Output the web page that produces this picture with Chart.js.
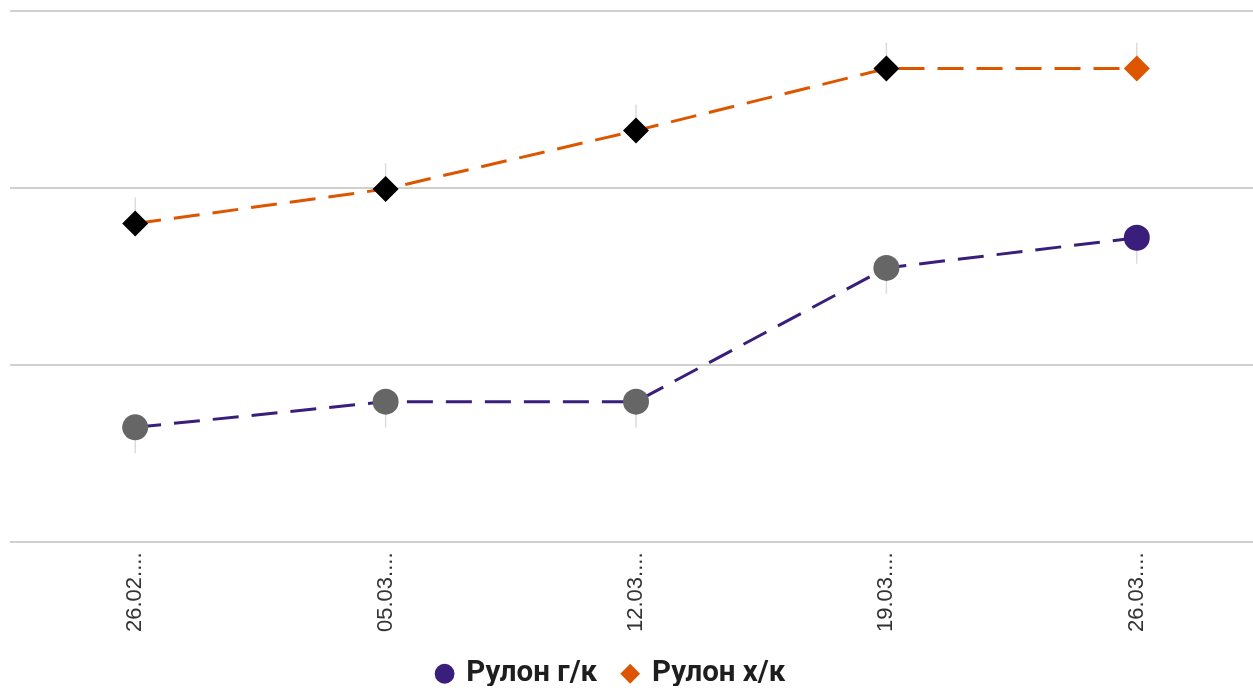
<!DOCTYPE html>
<html>
<head>
<meta charset="utf-8">
<script src="https://cdn.jsdelivr.net/npm/chart.js@4/dist/chart.umd.min.js"></script>
<style>
  html, body { margin: 0; padding: 0; background: #fff; overflow: hidden; }
  #c { display: block; margin-left: -2.6px; margin-top: -2.5px; }
</style>
</head>
<body>
<canvas id="c" width="1278" height="688"></canvas>
<script>
const categories = ['26.02....', '05.03....', '12.03....', '19.03....', '26.03....'];
const seriesNames = ['Рулон г/к', 'Рулон х/к'];
const hotRolled = [56500, 57950, 57950, 65500, 67200];
const coldRolled = [68000, 69950, 73250, 76750, 76750];
const yTicks = [50000, 60000, 70000, 80000];

const purple = '#3a1e7c';
const orange = '#de5500';

const stemPlugin = {
  id: 'stems',
  beforeDatasetsDraw(chart) {
    const ctx = chart.ctx;
    ctx.save();
    ctx.strokeStyle = '#dcdcdc';
    ctx.lineWidth = 1.5;
    chart.data.datasets.forEach((ds, di) => {
      const meta = chart.getDatasetMeta(di);
      const dir = di === 0 ? 1 : -1;
      meta.data.forEach(pt => {
        ctx.beginPath();
        ctx.moveTo(pt.x, pt.y);
        ctx.lineTo(pt.x, pt.y + dir * 26);
        ctx.stroke();
      });
    });
    ctx.restore();
  }
};

const legendShift = {
  id: 'legendShift',
  afterLayout(chart) {
    const lg = chart.legend;
    lg.left -= 28; lg.right -= 28;
    lg.top -= 9; lg.bottom -= 9;
  }
};

new Chart(document.getElementById('c'), {
  type: 'line',
  data: {
    labels: categories,
    datasets: [
      {
        label: seriesNames[0],
        data: hotRolled,
        borderColor: purple,
        backgroundColor: purple,
        borderWidth: 3,
        borderDash: [26, 13],
        pointStyle: 'circle',
        pointRadius: 13,
        pointHoverRadius: 13,
        pointBorderWidth: 0,
        pointBackgroundColor: ['#666666', '#666666', '#666666', '#666666', purple],
        pointBorderColor: ['#666666', '#666666', '#666666', '#666666', purple],
        tension: 0
      },
      {
        label: seriesNames[1],
        data: coldRolled,
        borderColor: orange,
        backgroundColor: orange,
        borderWidth: 3,
        borderDash: [26, 13],
        pointStyle: 'rectRot',
        pointRadius: 13,
        pointHoverRadius: 13,
        pointBorderWidth: 0,
        pointBackgroundColor: ['#000000', '#000000', '#000000', '#000000', orange],
        pointBorderColor: ['#000000', '#000000', '#000000', '#000000', orange],
        tension: 0
      }
    ]
  },
  options: {
    responsive: false,
    animation: false,
    layout: { padding: { left: 7, right: 0, top: 10.5, bottom: -21.5 } },
    plugins: {
      tooltip: { enabled: false },
      legend: {
        position: 'bottom',
        labels: {
          usePointStyle: true,
          boxWidth: 14,
          boxHeight: 14,
          padding: 26,
          color: '#1e1e1e',
          font: { family: 'Roboto', size: 29.5, weight: 'bold' },
          generateLabels(chart) {
            const items = Chart.defaults.plugins.legend.labels.generateLabels(chart);
            items.forEach((it, i) => {
              const ds = chart.data.datasets[i];
              it.fillStyle = ds.borderColor;
              it.strokeStyle = ds.borderColor;
              it.lineWidth = 0;
              it.lineDash = [];
            });
            return items;
          }
        }
      }
    },
    scales: {
      x: {
        offset: true,
        grid: { display: false, drawTicks: false },
        border: { display: false },
        ticks: {
          minRotation: 90,
          maxRotation: 90,
          padding: 10,
          color: '#333',
          font: { family: 'Liberation Sans', size: 22 }
        }
      },
      y: {
        min: yTicks[0],
        max: yTicks[yTicks.length - 1],
        afterBuildTicks(scale) { scale.ticks = yTicks.map(v => ({ value: v })); },
        grid: { color: '#d0d0d0', lineWidth: 2, drawTicks: false },
        border: { display: false },
        ticks: { display: false, font: { size: 1 }, padding: 0 }
      }
    }
  },
  plugins: [stemPlugin, legendShift]
});
</script>
</body>
</html>
